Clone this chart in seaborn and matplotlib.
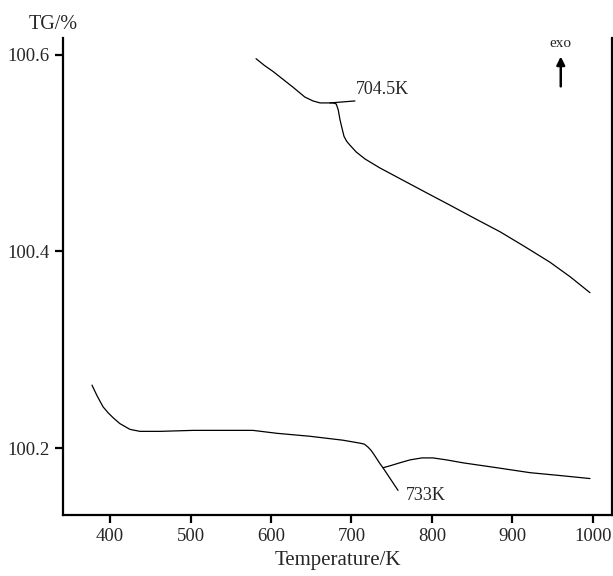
import numpy as np
import pandas as pd
import seaborn as sns
import matplotlib.pyplot as plt

# upper TG curve (onset 704.5 K)
upper_T = [581.4, 592.0, 602.5, 614.9, 627.3, 642.0, 652.2, 661.0, 670.0, 677.0,
           681.0, 683.5, 685.7, 688.0, 690.7, 694.0, 698.1, 706.0, 716.8, 735.0,
           760.2, 790.0, 822.4, 852.0, 884.5, 915.0, 946.6, 972.0, 996.3]
upper_TG = [100.596, 100.589, 100.583, 100.575, 100.567, 100.557, 100.553, 100.551,
            100.551, 100.551, 100.550, 100.544, 100.534, 100.526, 100.517, 100.512,
            100.508, 100.501, 100.494, 100.485, 100.474, 100.461, 100.447, 100.434,
            100.420, 100.405, 100.389, 100.374, 100.358]

# lower TG curve (onset 733 K)
lower_T = [377.6, 384.0, 391.3, 397.5, 403.7, 412.0, 424.8, 437.3, 462.1, 503.1,
           545.3, 577.6, 607.5, 648.4, 689.4, 710.6, 716.0, 720.5, 724.0, 727.5,
           731.5, 735.5, 739.1, 748.0, 760.0, 772.7, 787.6, 801.2, 818.0, 838.5,
           880.7, 921.7, 960.0, 996.3]
lower_TG = [100.264, 100.253, 100.242, 100.236, 100.231, 100.225, 100.219, 100.217,
            100.217, 100.218, 100.218, 100.218, 100.215, 100.212, 100.208, 100.205,
            100.204, 100.201, 100.198, 100.194, 100.189, 100.184, 100.180, 100.182,
            100.185, 100.188, 100.190, 100.190, 100.188, 100.185, 100.180, 100.175,
            100.172, 100.169]

# tangent lines marking onsets
tan_upper_T = [673.3, 704.3]
tan_upper_TG = [100.551, 100.553]
tan_lower_T = [739.1, 757.8]
tan_lower_TG = [100.180, 100.157]

x_ticks = [400, 500, 600, 700, 800, 900, 1000]
y_ticks = [100.2, 100.4, 100.6]

sns.set_style('ticks')
plt.rcParams['font.family'] = ['Liberation Serif', 'DejaVu Serif']

fig = plt.figure(figsize=(6.13, 5.76), dpi=100)
ax = fig.add_axes([0.1028, 0.106, 0.8955, 0.828])

up = pd.DataFrame({'T': upper_T, 'TG': upper_TG})
lo = pd.DataFrame({'T': lower_T, 'TG': lower_TG})
sns.lineplot(data=up, x='T', y='TG', ax=ax, color='black', lw=0.9, sort=False)
sns.lineplot(data=lo, x='T', y='TG', ax=ax, color='black', lw=0.9, sort=False)
ax.plot(tan_upper_T, tan_upper_TG, color='black', lw=0.9)
ax.plot(tan_lower_T, tan_lower_TG, color='black', lw=0.9)

ax.text(706, 100.556, '704.5K', fontsize=13, ha='left', va='bottom')
ax.text(768, 100.160, '733K', fontsize=13, ha='left', va='top')

# exo arrow
ax.annotate('', xy=(960, 100.601), xytext=(960, 100.565),
            arrowprops=dict(arrowstyle='-|>', color='black', lw=1.8, mutation_scale=12))
ax.text(960, 100.611, 'exo', fontsize=11, ha='center', va='center')

ax.set_xlim(341.6, 1023.6)
ax.set_ylim(100.132, 100.617)
ax.set_xticks(x_ticks)
ax.set_yticks(y_ticks)
ax.set_yticklabels([f'{v:.1f}' for v in y_ticks])
ax.tick_params(direction='out', length=6, width=1.6, labelsize=13.5, color='black')
ax.set_xlabel('Temperature/K', fontsize=15)
ax.set_ylabel('')
fig.text(0.046, 0.957, 'TG/%', fontsize=14.5, ha='left', va='center')

for side in ['left', 'bottom', 'right']:
    ax.spines[side].set_linewidth(1.6)
    ax.spines[side].set_color('black')
ax.spines['top'].set_visible(False)

fig.savefig('out.png', dpi=100)
